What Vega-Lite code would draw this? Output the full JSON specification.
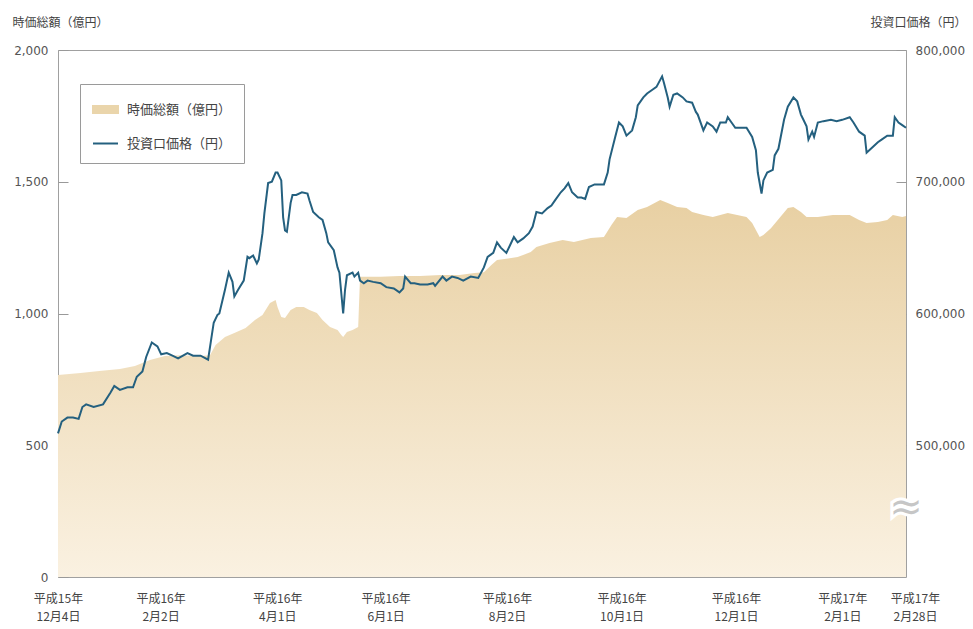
{
  "$schema": "https://vega.github.io/schema/vega-lite/v6.json",
  "width": 848,
  "height": 527,
  "autosize": "none",
  "padding": {"left": 58, "top": 50, "right": 67, "bottom": 52},
  "background": "white",
  "config": {
    "view": {"stroke": "#a0a0a0", "strokeWidth": 1},
    "font": "DejaVu Sans"
  },
  "datasets": {
    "cap": [
      {"date": "2003-12-04", "cap": 767}, {"date": "2003-12-16", "cap": 774}, {"date": "2003-12-26", "cap": 782},
      {"date": "2004-01-06", "cap": 789}, {"date": "2004-01-14", "cap": 801}, {"date": "2004-01-22", "cap": 824},
      {"date": "2004-01-30", "cap": 839}, {"date": "2004-02-07", "cap": 842}, {"date": "2004-02-18", "cap": 839},
      {"date": "2004-02-23", "cap": 842}, {"date": "2004-02-26", "cap": 880}, {"date": "2004-03-02", "cap": 911},
      {"date": "2004-03-07", "cap": 926}, {"date": "2004-03-13", "cap": 945}, {"date": "2004-03-18", "cap": 975},
      {"date": "2004-03-22", "cap": 994}, {"date": "2004-03-26", "cap": 1040}, {"date": "2004-03-29", "cap": 1051},
      {"date": "2004-03-30", "cap": 1025}, {"date": "2004-04-01", "cap": 987}, {"date": "2004-04-03", "cap": 983},
      {"date": "2004-04-06", "cap": 1013}, {"date": "2004-04-09", "cap": 1025}, {"date": "2004-04-13", "cap": 1025},
      {"date": "2004-04-16", "cap": 1013}, {"date": "2004-04-20", "cap": 1002}, {"date": "2004-04-23", "cap": 975},
      {"date": "2004-04-27", "cap": 949}, {"date": "2004-05-01", "cap": 937}, {"date": "2004-05-03", "cap": 918},
      {"date": "2004-05-04", "cap": 911}, {"date": "2004-05-06", "cap": 930}, {"date": "2004-05-09", "cap": 937},
      {"date": "2004-05-12", "cap": 949}, {"date": "2004-05-13", "cap": 1139}, {"date": "2004-05-24", "cap": 1139},
      {"date": "2004-06-03", "cap": 1142}, {"date": "2004-06-14", "cap": 1142}, {"date": "2004-06-25", "cap": 1146},
      {"date": "2004-07-05", "cap": 1146}, {"date": "2004-07-13", "cap": 1154}, {"date": "2004-07-18", "cap": 1157},
      {"date": "2004-07-22", "cap": 1184}, {"date": "2004-07-25", "cap": 1203}, {"date": "2004-08-05", "cap": 1214},
      {"date": "2004-08-12", "cap": 1233}, {"date": "2004-08-15", "cap": 1252}, {"date": "2004-08-22", "cap": 1268},
      {"date": "2004-08-29", "cap": 1279}, {"date": "2004-09-04", "cap": 1271}, {"date": "2004-09-13", "cap": 1287},
      {"date": "2004-09-20", "cap": 1290}, {"date": "2004-09-24", "cap": 1336}, {"date": "2004-09-27", "cap": 1366},
      {"date": "2004-10-02", "cap": 1362}, {"date": "2004-10-08", "cap": 1393}, {"date": "2004-10-13", "cap": 1404},
      {"date": "2004-10-20", "cap": 1431}, {"date": "2004-10-24", "cap": 1419}, {"date": "2004-10-29", "cap": 1404},
      {"date": "2004-11-03", "cap": 1400}, {"date": "2004-11-06", "cap": 1385}, {"date": "2004-11-12", "cap": 1374},
      {"date": "2004-11-17", "cap": 1366}, {"date": "2004-11-25", "cap": 1381}, {"date": "2004-11-30", "cap": 1374},
      {"date": "2004-12-05", "cap": 1366}, {"date": "2004-12-08", "cap": 1343}, {"date": "2004-12-12", "cap": 1290},
      {"date": "2004-12-14", "cap": 1298}, {"date": "2004-12-18", "cap": 1324}, {"date": "2004-12-23", "cap": 1366},
      {"date": "2004-12-27", "cap": 1400}, {"date": "2004-12-30", "cap": 1404}, {"date": "2005-01-03", "cap": 1385},
      {"date": "2005-01-06", "cap": 1366}, {"date": "2005-01-12", "cap": 1366}, {"date": "2005-01-20", "cap": 1374},
      {"date": "2005-01-29", "cap": 1374}, {"date": "2005-02-03", "cap": 1355}, {"date": "2005-02-07", "cap": 1343},
      {"date": "2005-02-13", "cap": 1347}, {"date": "2005-02-18", "cap": 1355}, {"date": "2005-02-21", "cap": 1374},
      {"date": "2005-02-26", "cap": 1366}, {"date": "2005-02-28", "cap": 1370}
    ],
    "price": [
      {"date": "2003-12-04", "price": 509000}, {"date": "2003-12-06", "price": 518000}, {"date": "2003-12-09", "price": 521000},
      {"date": "2003-12-12", "price": 521000}, {"date": "2003-12-15", "price": 520000}, {"date": "2003-12-17", "price": 529000},
      {"date": "2003-12-19", "price": 531000}, {"date": "2003-12-23", "price": 529000}, {"date": "2003-12-28", "price": 531000},
      {"date": "2004-01-01", "price": 540000}, {"date": "2004-01-03", "price": 545000}, {"date": "2004-01-06", "price": 542000},
      {"date": "2004-01-10", "price": 544000}, {"date": "2004-01-13", "price": 544000}, {"date": "2004-01-15", "price": 552000},
      {"date": "2004-01-18", "price": 556000}, {"date": "2004-01-20", "price": 567000}, {"date": "2004-01-23", "price": 578000},
      {"date": "2004-01-26", "price": 575000}, {"date": "2004-01-28", "price": 569000}, {"date": "2004-01-31", "price": 570000},
      {"date": "2004-02-03", "price": 568000}, {"date": "2004-02-06", "price": 566000}, {"date": "2004-02-11", "price": 570000},
      {"date": "2004-02-14", "price": 568000}, {"date": "2004-02-18", "price": 568000}, {"date": "2004-02-22", "price": 565000},
      {"date": "2004-02-25", "price": 593000}, {"date": "2004-02-27", "price": 599000}, {"date": "2004-02-28", "price": 600000},
      {"date": "2004-03-02", "price": 618000}, {"date": "2004-03-04", "price": 631000}, {"date": "2004-03-06", "price": 624000},
      {"date": "2004-03-07", "price": 613000}, {"date": "2004-03-09", "price": 618000}, {"date": "2004-03-12", "price": 625000},
      {"date": "2004-03-14", "price": 643000}, {"date": "2004-03-15", "price": 642000}, {"date": "2004-03-17", "price": 644000},
      {"date": "2004-03-19", "price": 638000}, {"date": "2004-03-20", "price": 641000}, {"date": "2004-03-22", "price": 661000},
      {"date": "2004-03-23", "price": 676000}, {"date": "2004-03-25", "price": 699000}, {"date": "2004-03-27", "price": 700000},
      {"date": "2004-03-29", "price": 707000}, {"date": "2004-03-30", "price": 707000}, {"date": "2004-04-01", "price": 701000},
      {"date": "2004-04-02", "price": 673000}, {"date": "2004-04-03", "price": 663000}, {"date": "2004-04-04", "price": 662000},
      {"date": "2004-04-06", "price": 684000}, {"date": "2004-04-07", "price": 690000}, {"date": "2004-04-09", "price": 690000},
      {"date": "2004-04-12", "price": 692000}, {"date": "2004-04-15", "price": 691000}, {"date": "2004-04-16", "price": 686000},
      {"date": "2004-04-18", "price": 677000}, {"date": "2004-04-21", "price": 673000}, {"date": "2004-04-23", "price": 671000},
      {"date": "2004-04-25", "price": 661000}, {"date": "2004-04-26", "price": 654000}, {"date": "2004-04-29", "price": 648000},
      {"date": "2004-05-01", "price": 635000}, {"date": "2004-05-02", "price": 631000}, {"date": "2004-05-04", "price": 600000},
      {"date": "2004-05-05", "price": 618000}, {"date": "2004-05-06", "price": 629000}, {"date": "2004-05-09", "price": 631000},
      {"date": "2004-05-10", "price": 628000}, {"date": "2004-05-12", "price": 631000}, {"date": "2004-05-13", "price": 625000},
      {"date": "2004-05-15", "price": 623000}, {"date": "2004-05-17", "price": 625000}, {"date": "2004-05-20", "price": 624000},
      {"date": "2004-05-24", "price": 623000}, {"date": "2004-05-27", "price": 620000}, {"date": "2004-05-31", "price": 619000},
      {"date": "2004-06-03", "price": 616000}, {"date": "2004-06-05", "price": 619000}, {"date": "2004-06-06", "price": 628000},
      {"date": "2004-06-09", "price": 623000}, {"date": "2004-06-11", "price": 623000}, {"date": "2004-06-14", "price": 622000},
      {"date": "2004-06-17", "price": 622000}, {"date": "2004-06-18", "price": 622000}, {"date": "2004-06-21", "price": 623000},
      {"date": "2004-06-22", "price": 621000}, {"date": "2004-06-26", "price": 628000}, {"date": "2004-06-28", "price": 625000},
      {"date": "2004-07-01", "price": 628000}, {"date": "2004-07-04", "price": 627000}, {"date": "2004-07-07", "price": 625000},
      {"date": "2004-07-11", "price": 628000}, {"date": "2004-07-15", "price": 627000}, {"date": "2004-07-18", "price": 635000},
      {"date": "2004-07-20", "price": 643000}, {"date": "2004-07-23", "price": 646000}, {"date": "2004-07-25", "price": 654000},
      {"date": "2004-07-27", "price": 650000}, {"date": "2004-07-30", "price": 646000}, {"date": "2004-08-01", "price": 652000},
      {"date": "2004-08-03", "price": 658000}, {"date": "2004-08-05", "price": 654000}, {"date": "2004-08-08", "price": 657000},
      {"date": "2004-08-11", "price": 661000}, {"date": "2004-08-13", "price": 666000}, {"date": "2004-08-15", "price": 677000},
      {"date": "2004-08-18", "price": 676000}, {"date": "2004-08-21", "price": 680000}, {"date": "2004-08-23", "price": 682000},
      {"date": "2004-08-25", "price": 686000}, {"date": "2004-08-28", "price": 692000}, {"date": "2004-08-30", "price": 695000},
      {"date": "2004-09-01", "price": 699000}, {"date": "2004-09-03", "price": 692000}, {"date": "2004-09-06", "price": 688000},
      {"date": "2004-09-08", "price": 688000}, {"date": "2004-09-10", "price": 687000}, {"date": "2004-09-12", "price": 696000},
      {"date": "2004-09-15", "price": 698000}, {"date": "2004-09-20", "price": 698000}, {"date": "2004-09-22", "price": 707000},
      {"date": "2004-09-23", "price": 717000}, {"date": "2004-09-26", "price": 734000}, {"date": "2004-09-28", "price": 745000},
      {"date": "2004-09-30", "price": 742000}, {"date": "2004-10-02", "price": 735000}, {"date": "2004-10-05", "price": 739000},
      {"date": "2004-10-07", "price": 749000}, {"date": "2004-10-08", "price": 758000}, {"date": "2004-10-11", "price": 764000},
      {"date": "2004-10-13", "price": 767000}, {"date": "2004-10-16", "price": 770000}, {"date": "2004-10-18", "price": 772000},
      {"date": "2004-10-21", "price": 780000}, {"date": "2004-10-22", "price": 775000}, {"date": "2004-10-24", "price": 764000},
      {"date": "2004-10-25", "price": 757000}, {"date": "2004-10-27", "price": 766000}, {"date": "2004-10-29", "price": 767000},
      {"date": "2004-11-01", "price": 764000}, {"date": "2004-11-03", "price": 761000}, {"date": "2004-11-06", "price": 760000},
      {"date": "2004-11-08", "price": 753000}, {"date": "2004-11-09", "price": 751000}, {"date": "2004-11-12", "price": 739000},
      {"date": "2004-11-14", "price": 745000}, {"date": "2004-11-17", "price": 742000}, {"date": "2004-11-19", "price": 738000},
      {"date": "2004-11-21", "price": 745000}, {"date": "2004-11-24", "price": 745000}, {"date": "2004-11-25", "price": 749000},
      {"date": "2004-11-27", "price": 745000}, {"date": "2004-11-29", "price": 741000}, {"date": "2004-12-02", "price": 741000},
      {"date": "2004-12-05", "price": 741000}, {"date": "2004-12-08", "price": 734000}, {"date": "2004-12-10", "price": 724000},
      {"date": "2004-12-11", "price": 707000}, {"date": "2004-12-13", "price": 691000}, {"date": "2004-12-14", "price": 701000},
      {"date": "2004-12-16", "price": 707000}, {"date": "2004-12-19", "price": 709000}, {"date": "2004-12-20", "price": 720000},
      {"date": "2004-12-22", "price": 725000}, {"date": "2004-12-25", "price": 747000}, {"date": "2004-12-27", "price": 757000},
      {"date": "2004-12-30", "price": 764000}, {"date": "2005-01-01", "price": 761000}, {"date": "2005-01-03", "price": 751000},
      {"date": "2005-01-04", "price": 748000}, {"date": "2005-01-06", "price": 742000}, {"date": "2005-01-07", "price": 732000},
      {"date": "2005-01-09", "price": 738000}, {"date": "2005-01-10", "price": 734000}, {"date": "2005-01-12", "price": 745000},
      {"date": "2005-01-15", "price": 746000}, {"date": "2005-01-19", "price": 747000}, {"date": "2005-01-22", "price": 746000},
      {"date": "2005-01-25", "price": 747000}, {"date": "2005-01-29", "price": 749000}, {"date": "2005-01-31", "price": 745000},
      {"date": "2005-02-03", "price": 738000}, {"date": "2005-02-06", "price": 735000}, {"date": "2005-02-07", "price": 722000},
      {"date": "2005-02-10", "price": 726000}, {"date": "2005-02-13", "price": 730000}, {"date": "2005-02-15", "price": 732000},
      {"date": "2005-02-18", "price": 735000}, {"date": "2005-02-21", "price": 735000}, {"date": "2005-02-22", "price": 749000},
      {"date": "2005-02-24", "price": 745000}, {"date": "2005-02-26", "price": 743000}, {"date": "2005-02-28", "price": 741000}
    ],
    "brk": [{"sym": "≈", "date": "2005-02-28", "v": 262}]
  },
  "layer": [
    {
      "data": {"name": "cap"},
      "mark": {
        "type": "area",
        "color": {
          "gradient": "linear", "x1": 0, "y1": 0, "x2": 0, "y2": 1,
          "stops": [{"offset": 0, "color": "#e8d0a3"}, {"offset": 1, "color": "#faf1e1"}]
        }
      },
      "encoding": {
        "x": {
          "field": "date", "type": "temporal",
          "scale": {"type": "utc", "domain": [{"year": 2003, "month": 12, "date": 4, "utc": true}, {"year": 2005, "month": 2, "date": 28, "utc": true}]},
          "axis": {
            "title": null, "domain": false, "ticks": false, "grid": false,
            "values": [
              {"year": 2003, "month": 12, "date": 4, "utc": true},
              {"year": 2004, "month": 2, "date": 2, "utc": true},
              {"year": 2004, "month": 4, "date": 1, "utc": true},
              {"year": 2004, "month": 6, "date": 1, "utc": true},
              {"year": 2004, "month": 8, "date": 2, "utc": true},
              {"year": 2004, "month": 10, "date": 1, "utc": true},
              {"year": 2004, "month": 12, "date": 1, "utc": true},
              {"year": 2005, "month": 2, "date": 1, "utc": true},
              {"year": 2005, "month": 2, "date": 28, "utc": true}
            ],
            "labelExpr": "['平成' + (utcyear(datum.value) - 1988) + '年', (utcmonth(datum.value) + 1) + '月' + utcdate(datum.value) + '日']",
            "labelFont": "Noto Sans CJK JP", "labelFontSize": 12, "labelColor": "#444",
            "labelLineHeight": 18, "labelPadding": 16, "labelBaseline": "top", "labelOverlap": false, "labelFlush": false,
            "labelOffset": {
              "condition": [
                {"test": "utcmonth(datum.value)==1 && utcdate(datum.value)==2", "value": -10},
                {"test": "utcmonth(datum.value)==3", "value": -4},
                {"test": "utcmonth(datum.value)==5", "value": -10},
                {"test": "utcmonth(datum.value)==7", "value": -5},
                {"test": "utcmonth(datum.value)==9", "value": -3},
                {"test": "utcmonth(datum.value)==11 && utcyear(datum.value)==2004", "value": -3},
                {"test": "utcmonth(datum.value)==1 && utcdate(datum.value)==1", "value": -13},
                {"test": "utcmonth(datum.value)==1 && utcdate(datum.value)==28", "value": 9}
              ],
              "value": 0
            }
          }
        },
        "y": {
          "field": "cap", "type": "quantitative",
          "scale": {"domain": [0, 2000], "nice": false, "zero": true},
          "axis": {
            "values": [0, 500, 1000, 1500, 2000], "format": ",d", "grid": false, "domain": false,
            "offset": -10, "tickSize": 10, "tickColor": "#999", "labelPadding": 10,
            "labelFont": "DejaVu Sans", "labelFontSize": 12, "labelColor": "#555",
            "title": "時価総額（億円）", "titleAngle": 0, "titleAlign": "left", "titleBaseline": "middle",
            "titleX": -56, "titleY": -28, "titleFont": "Noto Sans CJK JP", "titleFontSize": 12,
            "titleFontWeight": "normal", "titleColor": "#444"
          }
        }
      }
    },
    {
      "data": {"name": "price"},
      "mark": {"type": "line", "strokeWidth": 2},
      "encoding": {
        "x": {"field": "date", "type": "temporal"},
        "y": {
          "field": "price", "type": "quantitative",
          "scale": {"domain": [400000, 800000], "nice": false, "zero": false},
          "axis": {
            "orient": "right", "values": [500000, 600000, 700000, 800000], "format": ",d", "grid": false, "domain": false,
            "offset": -10, "tickSize": 10, "tickColor": "#999", "labelPadding": 9,
            "labelFont": "DejaVu Sans", "labelFontSize": 12, "labelColor": "#555",
            "title": "投資口価格（円）", "titleAngle": 0, "titleAlign": "left", "titleBaseline": "middle",
            "titleX": -26, "titleY": -28, "titleFont": "Noto Sans CJK JP", "titleFontSize": 12,
            "titleFontWeight": "normal", "titleColor": "#444"
          }
        },
        "color": {
          "datum": "投資口価格（円）",
          "scale": {"domain": ["時価総額（億円）", "投資口価格（円）"], "range": ["#ead5ab", "#24607f"]},
          "legend": {
            "orient": "none", "legendX": 22, "legendY": 34, "title": null,
            "strokeColor": "#9a9a9a", "fillColor": "white", "padding": 12,
            "symbolSize": 625, "rowPadding": 13, "labelOffset": 8,
            "labelFont": "Noto Sans CJK JP", "labelFontSize": 13, "labelColor": "#444",
            "encode": {
              "symbols": {
                "update": {
                  "shape": {"signal": "datum.value === '時価総額（億円）' ? 'M-1,-0.28H1V0.28H-1Z' : 'M-1,0H1'"},
                  "fill": {"signal": "datum.value === '時価総額（億円）' ? '#ead5ab' : 'transparent'"},
                  "stroke": {"signal": "datum.value === '時価総額（億円）' ? 'transparent' : '#24607f'"},
                  "strokeWidth": {"value": 2},
                  "opacity": {"value": 1}
                }
              }
            }
          }
        }
      }
    },
    {
      "data": {"name": "brk"},
      "mark": {"type": "text", "fontSize": 40, "font": "DejaVu Sans", "color": "white", "stroke": "white", "strokeWidth": 6},
      "encoding": {
        "x": {"field": "date", "type": "temporal"},
        "y": {"field": "v", "type": "quantitative", "scale": {"domain": [0, 2000], "nice": false}, "axis": null},
        "text": {"field": "sym"}
      }
    },
    {
      "data": {"name": "brk"},
      "mark": {"type": "text", "fontSize": 40, "font": "DejaVu Sans", "color": "#c6c6c6"},
      "encoding": {
        "x": {"field": "date", "type": "temporal"},
        "y": {"field": "v", "type": "quantitative", "scale": {"domain": [0, 2000], "nice": false}, "axis": null},
        "text": {"field": "sym"}
      }
    }
  ],
  "resolve": {"scale": {"y": "independent"}}
}
